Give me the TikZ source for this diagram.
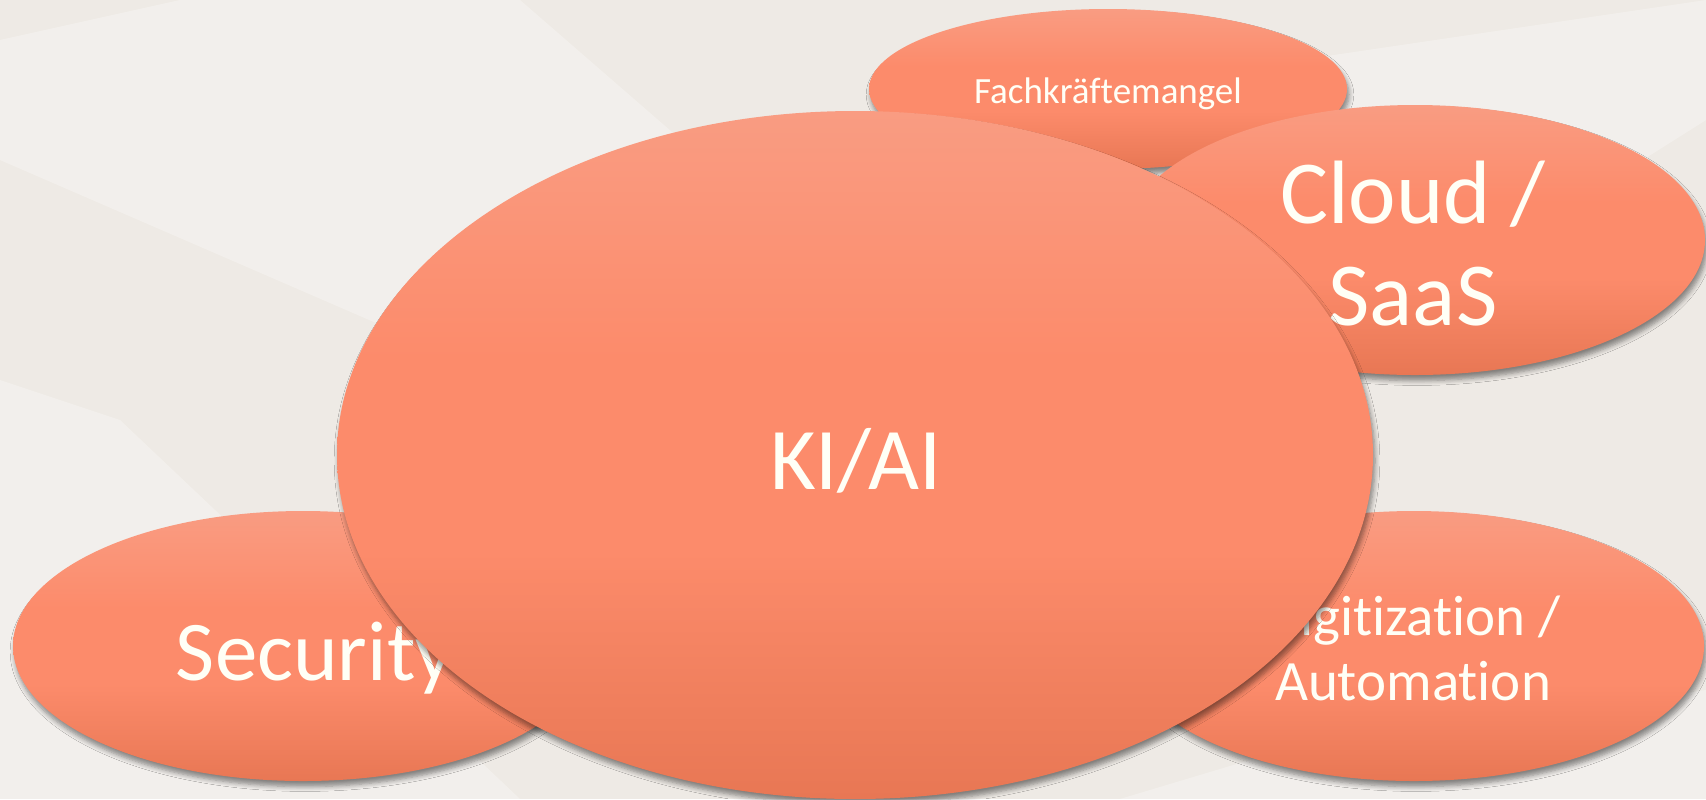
\documentclass[tikz,border=0pt]{standalone}
\usepackage{fontspec}
\setmainfont[Ligatures={NoCommon,TeX}]{Carlito}
\usetikzlibrary{shapes.geometric,shadows.blur}
\definecolor{bgc}{HTML}{EEEAE5}
\definecolor{topc}{HTML}{F99C82}
\definecolor{midc}{HTML}{FC8B6B}
\definecolor{botc}{HTML}{E87754}
\definecolor{txtc}{HTML}{FFFFF6}
\pgfdeclareverticalshading{blobshade}{100bp}{color(0bp)=(botc); color(25bp)=(botc); color(43bp)=(midc); color(57bp)=(midc); color(75bp)=(topc); color(100bp)=(topc)}
\tikzset{
  blob/.style={ellipse, inner sep=0pt, shading=blobshade,
    blur shadow={shadow xshift=1pt, shadow yshift=-2.8pt, shadow blur radius=2.4pt, shadow blur steps=6, shadow opacity=45}},
  lbl/.style={text=txtc, inner sep=0pt, anchor=base},
  band/.style={fill=white, opacity=0.28}
}
\begin{document}
\begin{tikzpicture}[x=0.5pt,y=-0.5pt]
\fill[bgc] (0,0) rectangle (1706,799);
\useasboundingbox (0,0) rectangle (1706,799);
% faint background bands
\fill[band] (0,40) -- (180,0) -- (520,0) -- (900,330) -- (860,470) -- (600,420) -- (0,160) -- cycle;
\fill[band] (1100,140) -- (1300,60) -- (1706,0) -- (1706,120) -- (1500,250) -- cycle;
\fill[band] (0,380) -- (120,420) -- (520,799) -- (0,799) -- cycle;
\fill[band] (1120,799) -- (1300,745) -- (1706,690) -- (1706,799) -- cycle;
% Fachkraeftemangel
\node[blob, minimum width=239pt, minimum height=80pt] (fach) at (1108,89) {};
\node[lbl, font=\fontsize{18.5}{22}\selectfont] (fachtxt) at (1108,103) {Fachkräftemangel};
% Cloud / SaaS
\node[blob, minimum width=290pt, minimum height=135pt] (cloud) at (1415,240) {};
\node[lbl, font=\fontsize{45}{50}\selectfont] (cloudtxtA) at (1413,223) {Cloud /};
\node[lbl, font=\fontsize{45}{50}\selectfont] (cloudtxtB) at (1413,325) {SaaS};
% Security
\node[blob, minimum width=290pt, minimum height=135pt] (sec) at (303,646) {};
\node[lbl, font=\fontsize{42.5}{50}\selectfont] (sectxt) at (315,680) {Security};
% Digitization / Automation
\node[blob, minimum width=290pt, minimum height=135pt] (dig) at (1414,646) {};
\node[lbl, font=\fontsize{28.5}{33}\selectfont] (digtxtA) at (1413,635) {Digitization /};
\node[lbl, font=\fontsize{28.5}{33}\selectfont] (digtxtB) at (1413,700) {Automation};
% KI / AI
\node[blob, minimum width=518pt, minimum height=344pt] (ki) at (855,455) {};
\node[lbl, font=\fontsize{44}{50}\selectfont] (kitxt) at (856,489) {KI/AI};
\end{tikzpicture}
\end{document}
